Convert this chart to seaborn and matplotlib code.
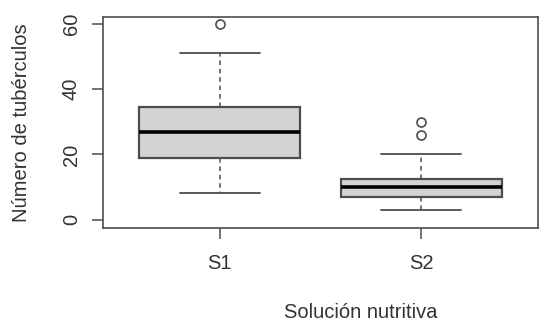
import pandas as pd
import numpy as np
import seaborn as sns
import matplotlib.pyplot as plt

# Tuber counts per nutrient solution
S1_VALUES = [8, 14, 19, 19, 23, 27, 31, 34, 35, 51, 60]
S2_VALUES = [3, 5, 6, 7, 7, 8, 9, 10, 11, 12, 12, 13, 20, 26, 30]
GROUPS = ['S1', 'S2']
Y_TICKS = [0, 20, 40, 60]

df = pd.DataFrame({
    'Solucion': ['S1'] * len(S1_VALUES) + ['S2'] * len(S2_VALUES),
    'Tuberculos': S1_VALUES + S2_VALUES,
})

sns.set_style('white')
plt.rcParams['font.family'] = ['Liberation Sans', 'DejaVu Sans']

fig = plt.figure(figsize=(5.45, 3.24), dpi=100)
ax = fig.add_axes([0.189, 0.2963, 0.798, 0.6512])

edge = '#4d4d4d'
txt = '#333333'
sns.boxplot(
    data=df, x='Solucion', y='Tuberculos', order=GROUPS,
    color='#d3d3d3', width=0.8, whis=1.5, linewidth=1.4, linecolor=edge,
    saturation=1, ax=ax,
    boxprops={'edgecolor': edge, 'linewidth': 1.6},
    medianprops={'color': 'black', 'linewidth': 2.6},
    whiskerprops={'color': edge, 'linestyle': (0, (3, 2.5)), 'linewidth': 1.1},
    capprops={'color': edge, 'linewidth': 1.3},
    flierprops={'marker': 'o', 'markerfacecolor': 'none', 'markeredgecolor': edge,
                'markersize': 6.5, 'markeredgewidth': 1.2},
)

ax.set_xlim(-0.58, 1.58)
ax.set_ylim(-2.6, 62.2)
ax.set_yticks(Y_TICKS)
ax.set_yticklabels([str(t) for t in Y_TICKS], rotation=90, va='center')

for s in ax.spines.values():
    s.set_visible(True)
    s.set_color(edge)
    s.set_linewidth(1.2)

ax.tick_params(axis='both', direction='out', length=8, width=1.1, color=edge,
               labelsize=14.5, labelcolor=txt)
ax.tick_params(axis='y', pad=8)
ax.tick_params(axis='x', pad=11)
ax.tick_params(left=True, bottom=True)

ax.set_xlabel('Solución nutritiva', fontsize=14.5, color=txt)
ax.set_ylabel('Número de tubérculos', fontsize=14.5, color=txt)
ax.xaxis.set_label_coords(0.593, -0.355)
ax.yaxis.set_label_coords(-0.165, 0.5)

fig.savefig('out.png', dpi=100)
